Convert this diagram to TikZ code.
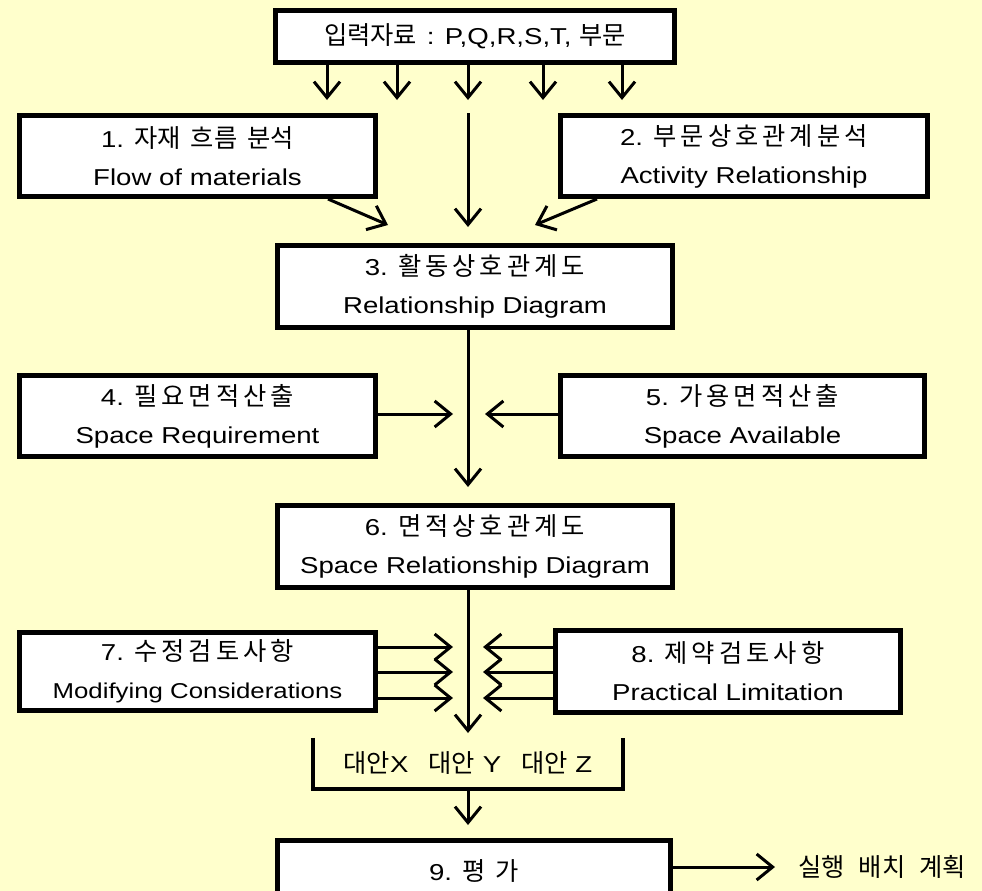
\documentclass[tikz,border=0pt]{standalone}
\usepackage{fontspec}
\setmainfont{Liberation Sans}[FakeStretch=1.2]
\newfontfamily\kr{Noto Sans CJK KR}[Scale=1.1]
\newfontfamily\krw{Noto Sans CJK KR}[Scale=1.1,LetterSpace=16]
\usetikzlibrary{arrows.meta}
\definecolor{bgyellow}{RGB}{255,255,204}
\newcommand\kgap{\hspace{10pt}}
\begin{document}
\begin{tikzpicture}[x=1pt,y=-1pt,
  box/.style={draw=black, line width=5pt, fill=white, align=center, inner sep=0pt,
    font=\fontsize{23}{38}\selectfont},
  arr/.style={line width=3pt, -{Straight Barb[length=16pt,width=26pt]}},
  lbl/.style={inner sep=0pt, font=\fontsize{23}{38}\selectfont},
  brk/.style={line width=4pt}]
\fill[bgyellow] (0,0) rectangle (982,891);
\useasboundingbox (0,0) rectangle (982,891);

% boxes
\node[box, minimum width=399pt, minimum height=52pt] (top) at (475,36.5)
  {{\kr 입력자료}\hspace{2pt} : P,Q,R,S,T, {\kr 부문}};
\node[box, minimum width=356pt, minimum height=81pt] (b1) at (197.5,156)
  {1. {\kr 자재\kgap 흐름\kgap 분석}\\Flow of materials};
\node[box, minimum width=367pt, minimum height=81pt] (b2) at (744,156)
  {2. {\krw 부문상호관계분석}\\Activity Relationship};
\node[box, minimum width=395pt, minimum height=82pt] (b3) at (475,286.5)
  {3. {\krw 활동상호관계도}\\Relationship Diagram};
\node[box, minimum width=356pt, minimum height=81pt] (b4) at (197.5,416)
  {4. {\krw 필요면적산출}\\Space Requirement};
\node[box, minimum width=364pt, minimum height=81pt] (b5) at (742.5,416)
  {5. {\krw 가용면적산출}\\Space Available};
\node[box, minimum width=395pt, minimum height=82pt] (b6) at (475,546.5)
  {6. {\krw 면적상호관계도}\\Space Relationship Diagram};
\node[box, minimum width=356pt, minimum height=78pt] (b7) at (197.5,671.5)
  {7. {\krw 수정검토사항}\\{\fontsize{21.5}{38}\selectfont Modifying Considerations}};
\node[box, minimum width=345pt, minimum height=82pt] (b8) at (728,671.5)
  {8. {\krw 제약검토사항}\\Practical Limitation};
\node[box, minimum width=393pt, minimum height=64pt] (b9) at (474,872)
  {\raisebox{3pt}{9. {\kr 평\kgap 가}}};

% alternatives bracket
\node[lbl, minimum width=310pt, minimum height=51pt] (alt) at (468,763.5)
  {{\kr 대안}X\hspace{20pt}{\kr 대안} Y\hspace{20pt}{\kr 대안} Z};
\draw[brk] (alt.north west) |- (alt.south east) -- (alt.north east);

% output label
\node[lbl, anchor=west] (out) at (798,867) {{\kr 실행\hspace{14pt}배치\hspace{14pt}계획}};

% coordinates for free arrow ends
\coordinate (t1) at (327,100);
\coordinate (t2) at (397,100);
\coordinate (t3) at (468,100);
\coordinate (t4) at (543,100);
\coordinate (t5) at (622,100);
\coordinate (c3) at (468,227);
\coordinate (l3) at (388,225);
\coordinate (r3) at (535,225);
\coordinate (c6) at (468,487);
\coordinate (m4) at (453,414);
\coordinate (m5) at (485,414);
\coordinate (cA) at (468,733);
\coordinate (m7a) at (453,647);
\coordinate (m7b) at (453,672);
\coordinate (m7c) at (453,698);
\coordinate (m8a) at (483,647);
\coordinate (m8b) at (483,672);
\coordinate (m8c) at (483,698);
\coordinate (c9) at (468,825);
\coordinate (m9) at (775,867);

% connectors
\foreach \t in {t1,t2,t3,t4,t5} \draw[arr] (\t |- top.south) -- (\t);
\draw[arr] (c3 |- b1.north) -- (c3);
\draw[arr] ([xshift=130.5pt]b1.south) -- (l3);
\draw[arr] ([xshift=-147pt]b2.south) -- (r3);
\draw[arr] (c6 |- b3.south) -- (c6);
\draw[arr] (m4 -| b4.east) -- (m4);
\draw[arr] (m5 -| b5.west) -- (m5);
\draw[arr] (cA |- b6.south) -- (cA);
\foreach \m in {m7a,m7b,m7c} \draw[arr] (\m -| b7.east) -- (\m);
\foreach \m in {m8a,m8b,m8c} \draw[arr] (\m -| b8.west) -- (\m);
\draw[arr] (alt.south) -- (c9);
\draw[arr] (m9 -| b9.east) -- (m9);
\end{tikzpicture}
\end{document}
